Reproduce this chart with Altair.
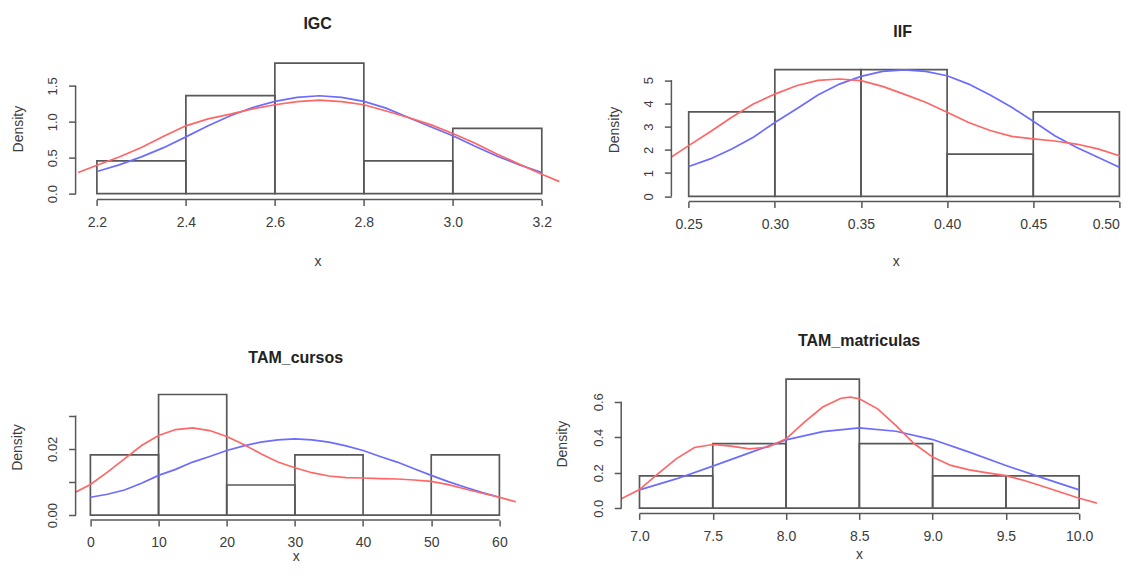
import altair as alt
import pandas as pd

FONT = "Liberation Sans"
RED = "#ff6666"
BLUE = "#6c6cff"
INK = "#585858"
TXT = "#3c3c3c"

# ---------------- IGC ----------------
igc_edges = [2.2, 2.4, 2.6, 2.8, 3.0, 3.2]
igc_density = [0.4545, 1.3636, 1.8182, 0.4545, 0.9091]
igc_kde_x = [2.158, 2.2, 2.25, 2.3, 2.35, 2.4, 2.45, 2.5, 2.55, 2.6, 2.65, 2.7,
             2.75, 2.8, 2.85, 2.9, 2.95, 3.0, 3.05, 3.1, 3.15, 3.2, 3.24]
igc_kde_y = [0.293, 0.395, 0.51, 0.642, 0.80, 0.944, 1.04, 1.107, 1.18, 1.237, 1.28, 1.302,
             1.28, 1.237, 1.15, 1.06, 0.96, 0.837, 0.70, 0.549, 0.41, 0.27, 0.167]
igc_norm_x = [2.2, 2.25, 2.3, 2.35, 2.4, 2.45, 2.5, 2.55, 2.6, 2.65, 2.7,
              2.75, 2.8, 2.85, 2.9, 2.95, 3.0, 3.05, 3.1, 3.15, 3.2]
igc_norm_y = [0.307, 0.40, 0.512, 0.64, 0.79, 0.944, 1.084, 1.2, 1.284, 1.34, 1.363,
              1.34, 1.284, 1.19, 1.06, 0.93, 0.805, 0.66, 0.52, 0.40, 0.293]
igc_xticks = [2.2, 2.4, 2.6, 2.8, 3.0, 3.2]
igc_yticks = [0.0, 0.5, 1.0, 1.5]

# ---------------- IIF ----------------
iif_edges = [0.25, 0.30, 0.35, 0.40, 0.45, 0.50]
iif_density = [3.636, 5.4545, 5.4545, 1.818, 3.636]
iif_kde_x = [0.2397, 0.25, 0.2625, 0.275, 0.2875, 0.30, 0.3125, 0.325, 0.3375, 0.35, 0.3625,
             0.375, 0.3875, 0.40, 0.4125, 0.425, 0.4375, 0.45, 0.4625, 0.475, 0.4875, 0.50, 0.505]
iif_kde_y = [1.68, 2.18, 2.78, 3.40, 3.97, 4.40, 4.76, 4.99, 5.05, 4.98, 4.73,
             4.40, 4.05, 3.62, 3.18, 2.83, 2.58, 2.47, 2.38, 2.25, 2.04, 1.75, 1.49]
iif_norm_x = [0.25, 0.2625, 0.275, 0.2875, 0.30, 0.3125, 0.325, 0.3375, 0.35, 0.3625, 0.375,
              0.3875, 0.40, 0.4125, 0.425, 0.4375, 0.45, 0.4625, 0.475, 0.4875, 0.50]
iif_norm_y = [1.28, 1.61, 2.04, 2.54, 3.18, 3.76, 4.36, 4.83, 5.16, 5.38, 5.44,
              5.38, 5.19, 4.83, 4.36, 3.83, 3.23, 2.61, 2.11, 1.68, 1.25]
iif_xticks = [0.25, 0.30, 0.35, 0.40, 0.45, 0.50]
iif_yticks = [0, 1, 2, 3, 4, 5]

# ---------------- TAM_cursos ----------------
cur_edges = [0, 10, 20, 30, 40, 50, 60]
cur_density = [0.01818, 0.03636, 0.00909, 0.01818, 0.0, 0.01818]
cur_kde_x = [-2.64, 0, 2.5, 5, 7.5, 10, 12.5, 15, 17.5, 20, 22.5, 25, 27.5, 30, 32.5, 35,
             37.5, 40, 42.5, 45, 47.5, 50, 52.5, 55, 57.5, 60, 62.6]
cur_kde_y = [0.00643, 0.00924, 0.01296, 0.01698, 0.0210, 0.0240, 0.0258, 0.0263, 0.0255,
             0.0237, 0.0213, 0.0185, 0.0160, 0.0143, 0.0128, 0.0118, 0.0113, 0.0112, 0.0110,
             0.0109, 0.0106, 0.0102, 0.0092, 0.0079, 0.0066, 0.0054, 0.0039]
cur_norm_x = [0, 2.5, 5, 7.5, 10, 12.5, 15, 17.5, 20, 22.5, 25, 27.5, 30, 32.5, 35, 37.5,
              40, 42.5, 45, 47.5, 50, 52.5, 55, 57.5, 60]
cur_norm_y = [0.0054, 0.0063, 0.0076, 0.0096, 0.0120, 0.0138, 0.0160, 0.0177, 0.0195, 0.0209,
              0.0220, 0.0227, 0.0230, 0.0227, 0.0220, 0.0209, 0.0195, 0.0177, 0.0160, 0.0140,
              0.0120, 0.0101, 0.0084, 0.0068, 0.0054]
cur_xticks = [0, 10, 20, 30, 40, 50, 60]
cur_yticks = [0.0, 0.01, 0.02, 0.03]

# ---------------- TAM_matriculas ----------------
mat_edges = [7.0, 7.5, 8.0, 8.5, 9.0, 9.5, 10.0]
mat_density = [0.1818, 0.3636, 0.7273, 0.3636, 0.1818, 0.1818]
mat_kde_x = [6.875, 7.0, 7.125, 7.25, 7.375, 7.5, 7.625, 7.75, 7.875, 8.0, 8.125, 8.25, 8.375,
             8.4375, 8.5, 8.625, 8.75, 8.875, 9.0, 9.125, 9.25, 9.375, 9.5, 9.625, 9.75, 9.875,
             10.0, 10.127]
mat_kde_y = [0.0526, 0.105, 0.194, 0.278, 0.342, 0.359, 0.350, 0.335, 0.344, 0.391, 0.485, 0.570,
             0.620, 0.626, 0.617, 0.560, 0.466, 0.363, 0.288, 0.241, 0.216, 0.199, 0.184, 0.156,
             0.124, 0.090, 0.056, 0.028]
mat_norm_x = [7.0, 7.25, 7.5, 7.75, 8.0, 8.25, 8.5, 8.75, 9.0, 9.25, 9.5, 9.75, 10.0]
mat_norm_y = [0.103, 0.165, 0.237, 0.312, 0.385, 0.432, 0.453, 0.434, 0.387, 0.316, 0.241,
              0.171, 0.103]
mat_xticks = [7.0, 7.5, 8.0, 8.5, 9.0, 9.5, 10.0]
mat_yticks = [0.0, 0.2, 0.4, 0.6]


def lin(v0, p0, v1, p1):
    """value at a given pixel, from two (value, pixel) anchors"""
    return lambda p: v0 + (p - p0) * (v1 - v0) / (p1 - p0)


def panel(title, edges, dens, kx, ky, nx, ny, xticks, yticks, xfmt, yfmt,
          box, xanchor, yanchor, ytitle_pad, title_offset, xtitle_pad,
          ylabel_expr=None, last_label_right=False, title_dx=0):
    left, right, top, bottom = box
    fx = lin(*xanchor)
    fy = lin(*yanchor)
    width = right - left
    height = bottom - top
    xscale = alt.Scale(domain=[fx(left), fx(right)], nice=False, zero=False)
    yscale = alt.Scale(domain=[fy(bottom), fy(top)], nice=False, zero=False)
    xargs = dict(values=xticks, format=xfmt, title="x", domain=False, grid=False,
                 tickSize=6, tickWidth=1.5, tickColor=INK, labelFontSize=14,
                 labelColor=TXT, labelPadding=10, labelFont=FONT, titleFont=FONT,
                 titleFontSize=14, titleFontWeight="normal", titleColor=TXT,
                 titlePadding=xtitle_pad, labelFlush=False, labelOverlap=False)
    if last_label_right:
        xargs["labelAlign"] = {"condition": {"test": f"datum.value >= {xticks[-1]} - 1e-9",
                                             "value": "right"}, "value": "center"}
    xaxis = alt.Axis(**xargs)
    yargs = dict(values=yticks, format=yfmt, title="Density", domain=False, grid=False,
                 tickSize=7, tickWidth=1.5, tickColor=INK, labelFontSize=13,
                 labelColor=TXT, labelPadding=9, labelAngle=270, labelAlign="center",
                 labelBaseline="bottom", labelFont=FONT, titleFont=FONT, titleFontSize=14,
                 titleFontWeight="normal", titleColor=TXT, titlePadding=ytitle_pad,
                 labelFlush=False, labelOverlap=False)
    if ylabel_expr:
        yargs["labelExpr"] = ylabel_expr
    yaxis = alt.Axis(**yargs)

    def X(f):
        return alt.X(f"{f}:Q", scale=xscale, axis=xaxis)

    def Y(f):
        return alt.Y(f"{f}:Q", scale=yscale, axis=yaxis)

    bars_df = pd.DataFrame({"x": edges[:-1], "x2": edges[1:], "y0": [0] * len(dens), "y": dens})
    kde_df = pd.DataFrame({"x": kx, "y": ky})
    norm_df = pd.DataFrame({"x": nx, "y": ny})
    xline_df = pd.DataFrame({"x": [xticks[0]], "x2": [xticks[-1]]})
    yline_df = pd.DataFrame({"y": [yticks[0]], "y2": [yticks[-1]]})

    bars = alt.Chart(bars_df).mark_rect(filled=False, stroke=INK, strokeWidth=1.7).encode(
        x=X("x"), x2="x2", y=Y("y0"), y2="y")
    kde = alt.Chart(kde_df).mark_line(color=RED, strokeWidth=1.7, clip=True).encode(
        x=X("x"), y=Y("y"))
    norm = alt.Chart(norm_df).mark_line(color=BLUE, strokeWidth=1.7, clip=True).encode(
        x=X("x"), y=Y("y"))
    xline = alt.Chart(xline_df).mark_rule(color=INK, strokeWidth=1.5).encode(
        x=X("x"), x2="x2", y=alt.value(height))
    yline = alt.Chart(yline_df).mark_rule(color=INK, strokeWidth=1.5).encode(
        y=Y("y"), y2="y2", x=alt.value(0))

    return alt.layer(bars, norm, kde, xline, yline).properties(
        width=width, height=height,
        title=alt.Title(title, fontSize=16, fontWeight="bold", font=FONT, color="#222222",
                        anchor="middle", offset=title_offset, dx=title_dx))


tl = panel("IGC", igc_edges, igc_density, igc_kde_x, igc_kde_y, igc_norm_x, igc_norm_y,
           igc_xticks, igc_yticks, ".1f", ".1f",
           box=(76.5, 560.5, 57, 199), xanchor=(2.2, 97.8, 3.2, 542.7),
           yanchor=(0, 193.0, 1.5, 85.3), ytitle_pad=21.5, title_offset=26, xtitle_pad=25)
tr = panel("IIF", iif_edges, iif_density, iif_kde_x, iif_kde_y, iif_norm_x, iif_norm_y,
           iif_xticks, iif_yticks, ".2f", "d",
           box=(672.5, 1121.0, 57, 200.8), xanchor=(0.25, 689.8, 0.50, 1120.5),
           yanchor=(0, 195.7, 5.4545, 69.0), ytitle_pad=20.9, title_offset=18, xtitle_pad=23,
           last_label_right=True, title_dx=7)
bl = panel("TAM_cursos", cur_edges, cur_density, cur_kde_x, cur_kde_y, cur_norm_x, cur_norm_y,
           cur_xticks, cur_yticks, "d", ".2f",
           box=(76.5, 516.7, 373.5, 519.5), xanchor=(0, 91.3, 60, 500.3),
           yanchor=(0, 514.7, 0.03636, 394.0), ytitle_pad=22, title_offset=7.5, xtitle_pad=0,
           ylabel_expr="(datum.value < 0.001 || abs(datum.value - 0.02) < 0.001) ? format(datum.value, '.2f') : ''")
br = panel("TAM_matriculas", mat_edges, mat_density, mat_kde_x, mat_kde_y, mat_norm_x, mat_norm_y,
           mat_xticks, mat_yticks, ".1f", ".1f",
           box=(621.0, 1096.7, 373.5, 512.9), xanchor=(7.0, 639.3, 10.0, 1079.0),
           yanchor=(0, 507.7, 0.7273, 378.7), ytitle_pad=22.2, title_offset=24.5, xtitle_pad=4)

top = alt.hconcat(tl, tr, spacing=47.8)
bottom = alt.hconcat(bl, br, spacing=38.6)
chart = alt.vconcat(top, bottom, spacing=64.4).properties(
    padding={"left": 2.6, "top": 7.6, "right": 0, "bottom": 0}
).configure(font=FONT, background="white").configure_view(strokeWidth=0)

chart.save("out.html", embed_options={"renderer": "svg", "actions": False})
